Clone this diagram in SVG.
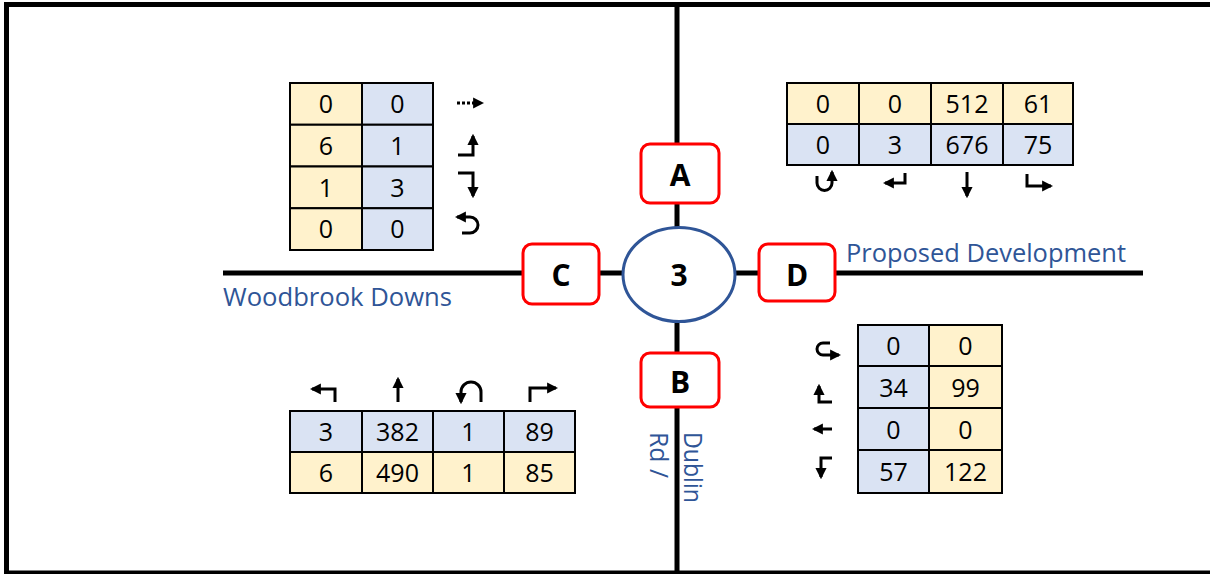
<svg xmlns="http://www.w3.org/2000/svg" width="1210" height="574" viewBox="0 0 1210 574">
<defs>
<marker id="ah" viewBox="0 0 10 10" refX="8" refY="5" markerWidth="3.7" markerHeight="3.7" orient="auto" markerUnits="strokeWidth">
<path d="M0,0 L10,5 L0,10 z" fill="#000"/>
</marker>
<style>
.road{stroke:#000;stroke-width:5;fill:none}
.box{fill:#fff;stroke:#FF0000;stroke-width:3}
.lbl{font-family:"Open Sans","Liberation Sans",sans-serif;font-weight:bold;font-size:30px;text-anchor:middle;fill:#000}
.num{font-family:"Open Sans","Liberation Sans",sans-serif;font-size:25px;text-anchor:middle;fill:#000}
.road-name{font-family:"Open Sans","Liberation Sans",sans-serif;font-size:25.5px;fill:#2F5597}
.y{fill:#FFF2CC;stroke:#000;stroke-width:2}
.b{fill:#DAE3F3;stroke:#000;stroke-width:2}
.arr{stroke:#000;stroke-width:3;fill:none;marker-end:url(#ah)}
</style>
</defs>
<rect x="0" y="0" width="1210" height="574" fill="#fff"/>
<g id="frame" stroke="#000" fill="none">
<line x1="4" y1="4.5" x2="1210" y2="4.5" stroke-width="5"/>
<line x1="6.5" y1="2" x2="6.5" y2="574" stroke-width="5"/>
<line x1="4" y1="572.5" x2="1210" y2="572.5" stroke-width="4"/>
</g>
<g id="connectors">
<line class="road" x1="677" y1="5" x2="677" y2="574"/>
<line class="road" x1="223" y1="273" x2="1143" y2="273" stroke-width="6"/>
</g>
<g id="labels">
<text class="road-name" x="846" y="262" textLength="280" lengthAdjust="spacingAndGlyphs">Proposed Development</text>
<text class="road-name" x="223" y="306" textLength="229" lengthAdjust="spacingAndGlyphs">Woodbrook Downs</text>
<text class="road-name" transform="translate(684,432) rotate(90)" textLength="71" lengthAdjust="spacingAndGlyphs">Dublin</text>
<text class="road-name" transform="translate(650,432) rotate(90)" textLength="46" lengthAdjust="spacingAndGlyphs">Rd /</text>
</g>
<g id="node-center">
<ellipse cx="679" cy="274.5" rx="56" ry="47" fill="#fff" stroke="#2F5597" stroke-width="3"/>
<text class="lbl" x="679" y="286" font-size="32">3</text>
</g>
<g id="node-A">
<rect class="box" x="641" y="144" width="78" height="59" rx="9"/>
<text class="lbl" x="680" y="186">A</text>
</g>
<g id="node-B">
<rect class="box" x="641" y="353" width="78" height="54" rx="9"/>
<text class="lbl" x="680" y="393">B</text>
</g>
<g id="node-C">
<rect class="box" x="523" y="244" width="76" height="60" rx="9"/>
<text class="lbl" x="561" y="286">C</text>
</g>
<g id="node-D">
<rect class="box" x="759" y="244" width="76" height="57" rx="9"/>
<text class="lbl" x="797" y="286">D</text>
</g>
<g id="table-C">
<rect class="y" x="290" y="83" width="72" height="41.75"/>
<rect class="b" x="362" y="83" width="71" height="41.75"/>
<rect class="y" x="290" y="124.75" width="72" height="41.75"/>
<rect class="b" x="362" y="124.75" width="71" height="41.75"/>
<rect class="y" x="290" y="166.5" width="72" height="41.75"/>
<rect class="b" x="362" y="166.5" width="71" height="41.75"/>
<rect class="y" x="290" y="208.25" width="72" height="41.75"/>
<rect class="b" x="362" y="208.25" width="71" height="41.75"/>
<text class="num" x="326" y="113">0</text><text class="num" x="397.5" y="113">0</text>
<text class="num" x="326" y="155">6</text><text class="num" x="397.5" y="155">1</text>
<text class="num" x="326" y="196.5">1</text><text class="num" x="397.5" y="196.5">3</text>
<text class="num" x="326" y="238">0</text><text class="num" x="397.5" y="238">0</text>
<path class="arr" d="M457,103 H482" stroke-dasharray="3,2"/>
<path class="arr" d="M458,155 H473 V136"/>
<path class="arr" d="M458,173 H473 V196"/>
<path class="arr" d="M462,233 H470 A8,8 0 0 0 470,217 H457"/>
</g>
<g id="table-A">
<rect class="y" x="787" y="83" width="72" height="41"/>
<rect class="y" x="859" y="83" width="72" height="41"/>
<rect class="y" x="931" y="83" width="72" height="41"/>
<rect class="y" x="1003" y="83" width="70" height="41"/>
<rect class="b" x="787" y="124" width="72" height="41"/>
<rect class="b" x="859" y="124" width="72" height="41"/>
<rect class="b" x="931" y="124" width="72" height="41"/>
<rect class="b" x="1003" y="124" width="70" height="41"/>
<text class="num" x="823" y="113">0</text><text class="num" x="895" y="113">0</text><text class="num" x="967" y="113">512</text><text class="num" x="1038" y="113">61</text>
<text class="num" x="823" y="154">0</text><text class="num" x="895" y="154">3</text><text class="num" x="967" y="154">676</text><text class="num" x="1038" y="154">75</text>
<path class="arr" d="M817,176 V183 A7.5,7.5 0 0 0 832,183 V172"/>
<path class="arr" d="M905,173 V183 H885"/>
<path class="arr" d="M967,172 V196"/>
<path class="arr" d="M1027,174 V186 H1051"/>
</g>
<g id="table-D">
<rect class="b" x="858" y="325" width="71" height="41"/>
<rect class="y" x="929" y="325" width="73" height="41"/>
<rect class="b" x="858" y="366" width="71" height="42"/>
<rect class="y" x="929" y="366" width="73" height="42"/>
<rect class="b" x="858" y="408" width="71" height="42"/>
<rect class="y" x="929" y="408" width="73" height="42"/>
<rect class="b" x="858" y="450" width="71" height="43"/>
<rect class="y" x="929" y="450" width="73" height="43"/>
<text class="num" x="893.5" y="355">0</text><text class="num" x="965.5" y="355">0</text>
<text class="num" x="893.5" y="396.5">34</text><text class="num" x="965.5" y="396.5">99</text>
<text class="num" x="893.5" y="438.5">0</text><text class="num" x="965.5" y="438.5">0</text>
<text class="num" x="893.5" y="481">57</text><text class="num" x="965.5" y="481">122</text>
<path class="arr" d="M830,343 H823 A6,6 0 0 0 823,355 H839"/>
<path class="arr" d="M832,402 H819 V386"/>
<path class="arr" d="M832,429 H814"/>
<path class="arr" d="M832,458 H821 V477"/>
</g>
<g id="table-B">
<rect class="b" x="290" y="411" width="72" height="41"/>
<rect class="b" x="362" y="411" width="71" height="41"/>
<rect class="b" x="433" y="411" width="71" height="41"/>
<rect class="b" x="504" y="411" width="71" height="41"/>
<rect class="y" x="290" y="452" width="72" height="41"/>
<rect class="y" x="362" y="452" width="71" height="41"/>
<rect class="y" x="433" y="452" width="71" height="41"/>
<rect class="y" x="504" y="452" width="71" height="41"/>
<text class="num" x="326" y="441">3</text><text class="num" x="397.5" y="441">382</text><text class="num" x="468.5" y="441">1</text><text class="num" x="539.5" y="441">89</text>
<text class="num" x="326" y="482">6</text><text class="num" x="397.5" y="482">490</text><text class="num" x="468.5" y="482">1</text><text class="num" x="539.5" y="482">85</text>
<path class="arr" d="M335,402 V389 H312"/>
<path class="arr" d="M398,402 V379"/>
<path class="arr" d="M481,402 V392 A10,10 0 0 0 461,392 V402"/>
<path class="arr" d="M530,402 V388 H556"/>
</g>
</svg>
